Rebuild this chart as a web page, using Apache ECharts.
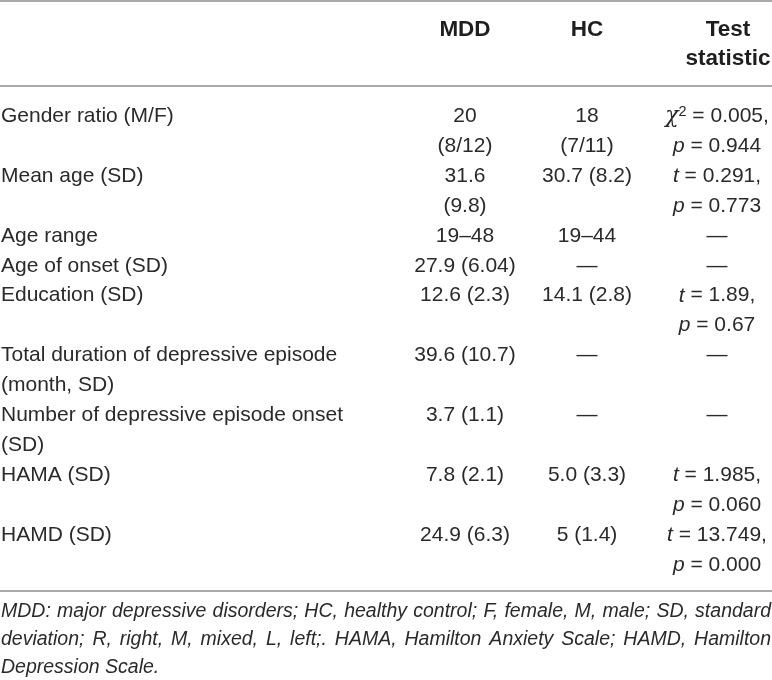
<!DOCTYPE html>
<html>
<head>
<meta charset="utf-8">
<script src="https://cdn.jsdelivr.net/npm/echarts@6/dist/echarts.min.js"></script>
<style>
  html, body { margin: 0; padding: 0; background: #fff; }
  #chart { width: 772px; height: 680px; }
</style>
</head>
<body>
<div id="chart"></div>
<script>
// ---- table content ----
const headers = ["", "MDD", "HC", "Test\nstatistic"];
const categories = [
  "Gender ratio (M/F)",
  "Mean age (SD)",
  "Age range",
  "Age of onset (SD)",
  "Education (SD)",
  "Total duration of depressive episode\n(month, SD)",
  "Number of depressive episode onset\n(SD)",
  "HAMA (SD)",
  "HAMD (SD)"
];
const mddValues = ["20\n(8/12)", "31.6\n(9.8)", "19–48", "27.9 (6.04)", "12.6 (2.3)", "39.6 (10.7)", "3.7 (1.1)", "7.8 (2.1)", "24.9 (6.3)"];
const hcValues = ["18\n(7/11)", "30.7 (8.2)", "19–44", "—", "14.1 (2.8)", "—", "—", "5.0 (3.3)", "5 (1.4)"];
const testStats = [
  "{chi|χ}{sup|2} = 0.005,\n{i|p} = 0.944",
  "{i|t} = 0.291,\n{i|p} = 0.773",
  "—",
  "—",
  "{i|t} = 1.89,\n{i|p} = 0.67",
  "—",
  "—",
  "{i|t} = 1.985,\n{i|p} = 0.060",
  "{i|t} = 13.749,\n{i|p} = 0.000"
];
const footnoteLines = [
  "MDD: major depressive disorders; HC, healthy control; F, female, M, male; SD, standard",
  "deviation; R, right, M, mixed, L, left;. HAMA, Hamilton Anxiety Scale; HAMD, Hamilton",
  "Depression Scale."
];

// ---- layout ----
const W = 772;
const FONT = '"Liberation Sans", Arial, Helvetica, sans-serif';
const TEXT_COLOR = '#2a2a2a';
const RULE_COLOR = '#8e8e8e';
const BODY_SIZE = 21;
const HEAD_SIZE = 22.5;
const colX = [1, 465, 587, 717];
const headerColX = [1, 465, 587, 728];
const headerY0 = 30, headerLH = 29;
const bodyY0 = 116, bodyLH = 29.95;
const rules = [1, 86, 591];
const footY0 = 612, footLH = 28, FOOT_SIZE = 19.5;

const rich = {
  i: { fontStyle: 'italic', fontSize: BODY_SIZE, fontFamily: FONT, fill: TEXT_COLOR },
  chi: { fontStyle: 'italic', fontSize: BODY_SIZE + 1, fontFamily: '"DejaVu Serif", serif', fill: TEXT_COLOR },
  sup: { fontSize: 14.5, fontFamily: FONT, fill: TEXT_COLOR, verticalAlign: 'top', padding: [0, 0, 9, 0] }
};

const elements = [];
function addText(text, x, y, align, extra) {
  elements.push({
    type: 'text', x: x, y: y, silent: true,
    style: Object.assign({
      text: text, fill: TEXT_COLOR, fontFamily: FONT, fontSize: BODY_SIZE,
      align: align, textAlign: align, verticalAlign: 'middle', textVerticalAlign: 'middle',
      rich: rich
    }, extra || {})
  });
}

// rules
rules.forEach(y => elements.push({
  type: 'line', silent: true,
  shape: { x1: 0, y1: y, x2: W, y2: y },
  style: { stroke: RULE_COLOR, lineWidth: 1.6 }
}));

// header
headers.forEach((h, ci) => {
  h.split('\n').forEach((t, k) => {
    if (t) addText(t, headerColX[ci], headerY0 + k * headerLH, 'center', { fontWeight: 'bold', fontSize: HEAD_SIZE, fill: '#1e1e1e' });
  });
});

// body
let line = 0;
categories.forEach((cat, r) => {
  const cells = [cat, mddValues[r], hcValues[r], testStats[r]];
  const n = Math.max.apply(null, cells.map(c => c.split('\n').length));
  cells.forEach((c, ci) => {
    c.split('\n').forEach((t, k) => {
      addText(t, colX[ci], bodyY0 + (line + k) * bodyLH, ci === 0 ? 'left' : 'center');
    });
  });
  line += n;
});

// footnote (justified except last line)
const ctx = document.createElement('canvas').getContext('2d');
ctx.font = 'italic ' + FOOT_SIZE + 'px ' + FONT;
footnoteLines.forEach((ln, li) => {
  const y = footY0 + li * footLH;
  const last = li === footnoteLines.length - 1;
  if (last) {
    addText(ln, 1, y, 'left', { fontStyle: 'italic', fontSize: FOOT_SIZE });
    return;
  }
  const words = ln.split(' ');
  const widths = words.map(w => ctx.measureText(w).width);
  const total = widths.reduce((a, b) => a + b, 0);
  const gap = (W - 2 - total) / (words.length - 1);
  let x = 1;
  words.forEach((w, wi) => {
    addText(w, x, y, 'left', { fontStyle: 'italic', fontSize: FOOT_SIZE });
    x += widths[wi] + gap;
  });
});

const chart = echarts.init(document.getElementById('chart'), null, { renderer: 'canvas' });
chart.setOption({
  backgroundColor: '#ffffff',
  animation: false,
  graphic: { elements: elements }
});
</script>
</body>
</html>
